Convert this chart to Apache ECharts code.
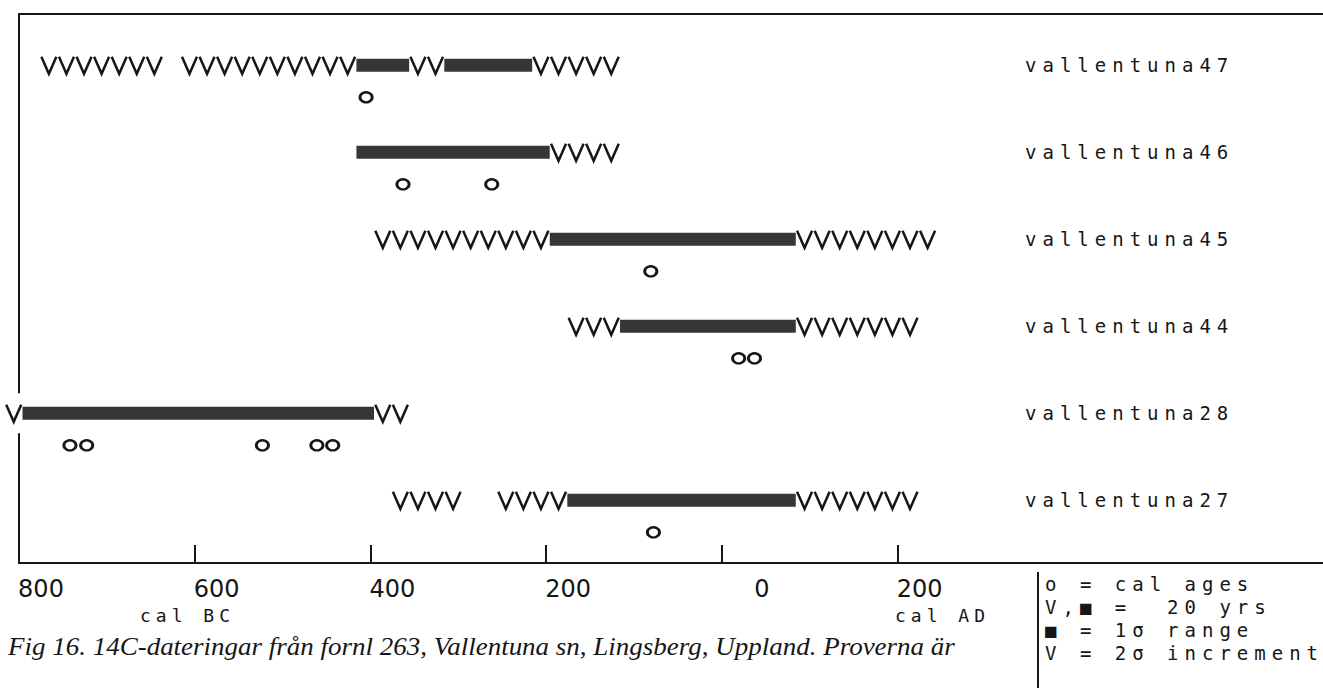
<!DOCTYPE html>
<html>
<head>
<meta charset="utf-8">
<script src="https://cdn.jsdelivr.net/npm/echarts@6/dist/echarts.min.js"></script>
<style>
  html, body { margin: 0; padding: 0; background: #fff; }
  #chart { width: 1323px; height: 688px; }
  #chart text[style*="19px"][style*="Mono"] { letter-spacing: 6px; }
  #chart text[style*="18px"][style*="Mono"] { letter-spacing: 5px; }
</style>
</head>
<body>
<div id="chart"></div>
<script>
// Samples (one row each, top to bottom)
const samples = ['vallentuna47', 'vallentuna46', 'vallentuna45', 'vallentuna44', 'vallentuna28', 'vallentuna27'];
// 1-sigma ranges (solid bars): [sample row, start year, end year]; negative = cal BC
const oneSigma = [
  [0, -416, -356], [0, -316, -216],
  [1, -416, -196],
  [2, -196, 84],
  [3, -116, 84],
  [4, -796, -396],
  [5, -176, 84]
];
// 2-sigma increments (V runs, one V = 20 yrs): [sample row, start year, end year]
const twoSigma = [
  [0, -776, -636], [0, -616, -416], [0, -356, -316], [0, -216, -116],
  [1, -196, -116],
  [2, -396, -196], [2, 84, 244],
  [3, -176, -116], [3, 84, 224],
  [4, -816, -796], [4, -396, -356],
  [5, -376, -296], [5, -256, -176], [5, 84, 224]
];
// Calibrated ages (circles): [sample row, year]
const calAges = [
  [0, -405],
  [1, -363], [1, -262],
  [2, -81],
  [3, 19], [3, 37],
  [4, -742], [4, -723], [4, -523], [4, -461], [4, -443],
  [5, -78]
];
// Axis ticks
const tickValues = [-800, -600, -400, -200, 0, 200];
const tickLabels = ['800', '600', '400', '200', '0', '200'];
const legendLines = ['o = cal ages', 'V,\u25A0 =  20 yrs', '\u25A0 = 1\u03C3 range', 'V = 2\u03C3 increment'];
const caption = 'Fig 16. 14C-dateringar från fornl 263, Vallentuna sn, Lingsberg, Uppland. Proverna är';

const INK = '#161616';
const chart = echarts.init(document.getElementById('chart'), null, { renderer: 'svg' });

function renderBar(params, api) {
  const row = api.value(0);
  const p0 = api.coord([api.value(1), row]);
  const p1 = api.coord([api.value(2), row]);
  return {
    type: 'rect',
    shape: { x: p0[0], y: p0[1] - 6.5, width: p1[0] - p0[0], height: 13 },
    style: { fill: '#363636' }
  };
}

function renderV(params, api) {
  const row = api.value(0), s = api.value(1), e = api.value(2);
  const p0 = api.coord([s, row]);
  const p1 = api.coord([e, row]);
  const n = Math.max(1, Math.round((e - s) / 20));
  const w = (p1[0] - p0[0]) / n;
  const children = [{
    type: 'rect',
    shape: { x: p0[0], y: p0[1] - 20, width: p1[0] - p0[0], height: 40 },
    style: { fill: '#fff' }
  }];
  for (let i = 0; i < n; i++) {
    const x = p0[0] + i * w;
    children.push({
      type: 'polyline',
      shape: { points: [[x + 1.3, p0[1] - 8.5], [x + w / 2, p0[1] + 8.5], [x + w - 1.3, p0[1] - 8.5]] },
      style: { stroke: INK, lineWidth: 2.5, fill: 'none', lineJoin: 'miter' }
    });
  }
  return { type: 'group', children };
}

function renderAge(params, api) {
  const p = api.coord([api.value(1), api.value(0)]);
  return {
    type: 'circle',
    x: p[0], y: p[1] + 32,
    scaleX: 1.22,
    shape: { cx: 0, cy: 0, r: 5 },
    style: { fill: 'none', stroke: INK, lineWidth: 2.4 }
  };
}

function renderName(params, api) {
  const p = api.coord([0, api.value(0)]);
  return {
    type: 'text',
    x: 1025, y: p[1],
    style: {
      text: samples[api.value(0)],
      fill: INK,
      font: '19px "DejaVu Sans Mono"',
      verticalAlign: 'middle',
      align: 'left'
    }
  };
}

const xBase = {
  type: 'value', min: -800, max: 684,
  splitLine: { show: false }
};

chart.setOption({
  animation: false,
  grid: { left: 19, right: 0, top: 14, bottom: 125, containLabel: false },
  xAxis: [
    Object.assign({}, xBase, {
      position: 'bottom',
      axisLine: { show: true, onZero: false, lineStyle: { color: INK, width: 2 } },
      axisTick: {
        show: true, inside: true, length: 18,
        customValues: tickValues.slice(1),
        lineStyle: { color: INK, width: 2 }
      },
      axisLabel: {
        show: true,
        customValues: tickValues,
        margin: 14,
        formatter: function (v) {
          const i = tickValues.indexOf(v);
          const t = i >= 0 ? tickLabels[i] : '';
          return v === 0 ? '{z|' + t + '}' : '{n|' + t + '}';
        },
        color: INK,
        fontFamily: 'DejaVu Sans',
        fontSize: 24,
        rich: {
          n: { padding: [0, 0, 0, 44], fontFamily: 'DejaVu Sans', fontSize: 24, color: INK },
          z: { padding: [0, 0, 0, 80], fontFamily: 'DejaVu Sans', fontSize: 24, color: INK }
        }
      }
    }),
    Object.assign({}, xBase, {
      position: 'top',
      axisLine: { show: true, onZero: false, lineStyle: { color: INK, width: 2 } },
      axisTick: { show: false },
      axisLabel: { show: false }
    })
  ],
  yAxis: {
    type: 'value', inverse: true, min: -0.59, max: 5.72,
    axisLine: { show: true, onZero: false, lineStyle: { color: INK, width: 2 } },
    axisTick: { show: false },
    axisLabel: { show: false },
    splitLine: { show: false }
  },
  series: [
    { type: 'custom', name: '2σ', clip: false, renderItem: renderV, data: twoSigma, z: 3 },
    { type: 'custom', name: '1σ', clip: false, renderItem: renderBar, data: oneSigma, z: 4 },
    { type: 'custom', name: 'cal ages', clip: false, renderItem: renderAge, data: calAges, z: 4 },
    { type: 'custom', name: 'samples', clip: false, renderItem: renderName, data: samples.map((s, i) => [i]), z: 4 }
  ],
  graphic: [
    { type: 'text', left: 140, top: 606, style: { text: 'cal BC', fill: INK, font: '18px "DejaVu Sans Mono"' } },
    { type: 'text', left: 895, top: 606, style: { text: 'cal AD', fill: INK, font: '18px "DejaVu Sans Mono"' } },
    { type: 'line', shape: { x1: 1038, y1: 572, x2: 1038, y2: 688 }, style: { stroke: INK, lineWidth: 2 } },
    { type: 'text', left: 1045, top: 574, style: { text: legendLines[0], fill: INK, font: '19px "DejaVu Sans Mono"' } },
    { type: 'text', left: 1045, top: 597, style: { text: legendLines[1], fill: INK, font: '19px "DejaVu Sans Mono"' } },
    { type: 'text', left: 1045, top: 620, style: { text: legendLines[2], fill: INK, font: '19px "DejaVu Sans Mono"' } },
    { type: 'text', left: 1045, top: 643, style: { text: legendLines[3], fill: INK, font: '19px "DejaVu Sans Mono"' } },
    { type: 'text', x: 8, y: 634, scaleX: 1.08, style: { text: caption, fill: INK, font: 'italic 25px "Liberation Serif"', verticalAlign: 'top' } }
  ]
});
</script>
</body>
</html>
